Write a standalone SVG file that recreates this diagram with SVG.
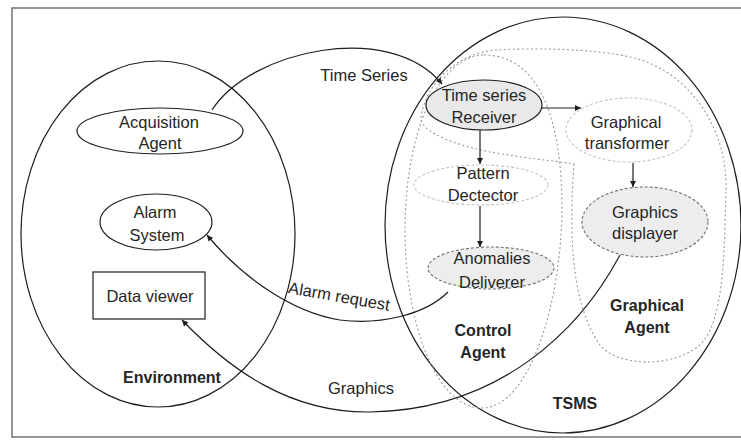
<svg xmlns="http://www.w3.org/2000/svg" width="741" height="441" viewBox="0 0 741 441">
<style>
  text { font-family: "Liberation Sans", Arial, sans-serif; font-size: 16.5px; fill: #262626; text-anchor: middle; }
  .b { font-weight: bold; font-size: 16px; }
  .solid { fill: none; stroke: #1e1e1e; stroke-width: 1.2; }
  .region { fill: none; stroke: #9a9a9a; stroke-width: 1.1; stroke-dasharray: 2 2.5; }
  .conn { fill: none; stroke: #1e1e1e; stroke-width: 1.2; }
  .filled { fill: #e9e9e9; stroke: #1e1e1e; stroke-width: 1.2; }
  .grayd { fill: #ededed; stroke: #6e6e6e; stroke-width: 1.1; stroke-dasharray: 3 2; }
  .light { fill: none; stroke: #c4c4c4; stroke-width: 1.1; stroke-dasharray: 3 2; }
</style>
<defs>
  <marker id="arr" viewBox="0 0 10 10" refX="10" refY="5" markerWidth="7" markerHeight="6" markerUnits="userSpaceOnUse" orient="auto">
    <path d="M0,0 L10,5 L0,10 z" fill="#1e1e1e"/>
  </marker>
</defs>
<rect x="0" y="0" width="741" height="441" fill="#ffffff"/>
<rect x="12" y="8" width="740" height="429" fill="none" stroke="#6a6a6a" stroke-width="1.4"/>

<g id="environment">
  <ellipse class="solid" cx="158" cy="234" rx="137" ry="173"/>
  <text class="b" x="172" y="383">Environment</text>
</g>
<g id="tsms">
  <ellipse class="solid" cx="563" cy="225" rx="178" ry="208"/>
  <text class="b" x="575" y="409">TSMS</text>
</g>
<g id="control-agent">
  <path class="region" d="M484,55 C530,55 560,100 562,200 C563,300 530,408 482,408 C435,408 405,320 405,230 C405,130 440,55 484,55 Z"/>
  <text class="b" x="483" y="336">Control</text>
  <text class="b" x="483" y="358">Agent</text>
</g>
<g id="graphical-agent">
  <path class="region" d="M574,164 C570,220 568,300 600,345 C615,365 670,370 700,345 C725,320 724,250 726,190 C728,130 690,70 630,57 C590,48 530,48 495,50 C455,54 425,85 421,118 C420,128 440,140 480,150 C520,158 550,160 574,164 Z"/>
  <text class="b" x="647" y="311">Graphical</text>
  <text class="b" x="647" y="333">Agent</text>
</g>

<g id="acquisition-agent">
  <ellipse class="solid" cx="160" cy="131" rx="83" ry="23"/>
  <text x="159" y="128">Acquisition</text>
  <text x="160" y="149">Agent</text>
</g>
<g id="alarm-system">
  <ellipse class="solid" cx="156" cy="222" rx="56" ry="28"/>
  <text x="155" y="218">Alarm</text>
  <text x="157" y="241">System</text>
</g>
<g id="data-viewer">
  <rect class="solid" x="93" y="272" width="112" height="47"/>
  <text x="150" y="302">Data viewer</text>
</g>

<g id="time-series-receiver">
  <ellipse class="filled" cx="484" cy="105" rx="58" ry="25"/>
  <text x="484" y="101">Time series</text>
  <text x="484" y="123">Receiver</text>
</g>
<g id="pattern-detector">
  <ellipse class="light" cx="481" cy="185" rx="67" ry="20"/>
  <text x="483" y="179">Pattern</text>
  <text x="483" y="201">Dectector</text>
</g>
<g id="anomalies-deliverer">
  <ellipse class="grayd" cx="491" cy="268" rx="63" ry="21"/>
  <text x="492" y="264">Anomalies</text>
  <text x="492" y="288">Deliverer</text>
</g>
<g id="graphical-transformer">
  <ellipse class="light" cx="629" cy="130" rx="63" ry="32"/>
  <text x="626" y="128">Graphical</text>
  <text x="627" y="149">transformer</text>
</g>
<g id="graphics-displayer">
  <ellipse class="grayd" cx="645" cy="222" rx="63" ry="35"/>
  <text x="645" y="218">Graphics</text>
  <text x="645" y="239">displayer</text>
</g>

<g id="connectors">
  <path class="conn" d="M212,110 C250,50 390,20 442,84" marker-end="url(#arr)"/>
  <path class="conn" d="M542,108 L581,108" marker-end="url(#arr)"/>
  <path class="conn" d="M480,130 L480,164" marker-end="url(#arr)"/>
  <path class="conn" d="M480,206 L480,247" marker-end="url(#arr)"/>
  <path class="conn" d="M633,163 L633,187" marker-end="url(#arr)"/>
  <path class="conn" d="M448,292 C425,315 380,325 340,320 C290,312 240,275 207,235" marker-end="url(#arr)"/>
  <path class="conn" d="M620,255 C580,330 500,410 370,412 C290,413 230,370 182,320" marker-end="url(#arr)"/>
  <text x="364" y="81">Time Series</text>
  <text x="339" y="302" transform="rotate(10 339 297)">Alarm request</text>
  <text x="361" y="394">Graphics</text>
</g>
</svg>
